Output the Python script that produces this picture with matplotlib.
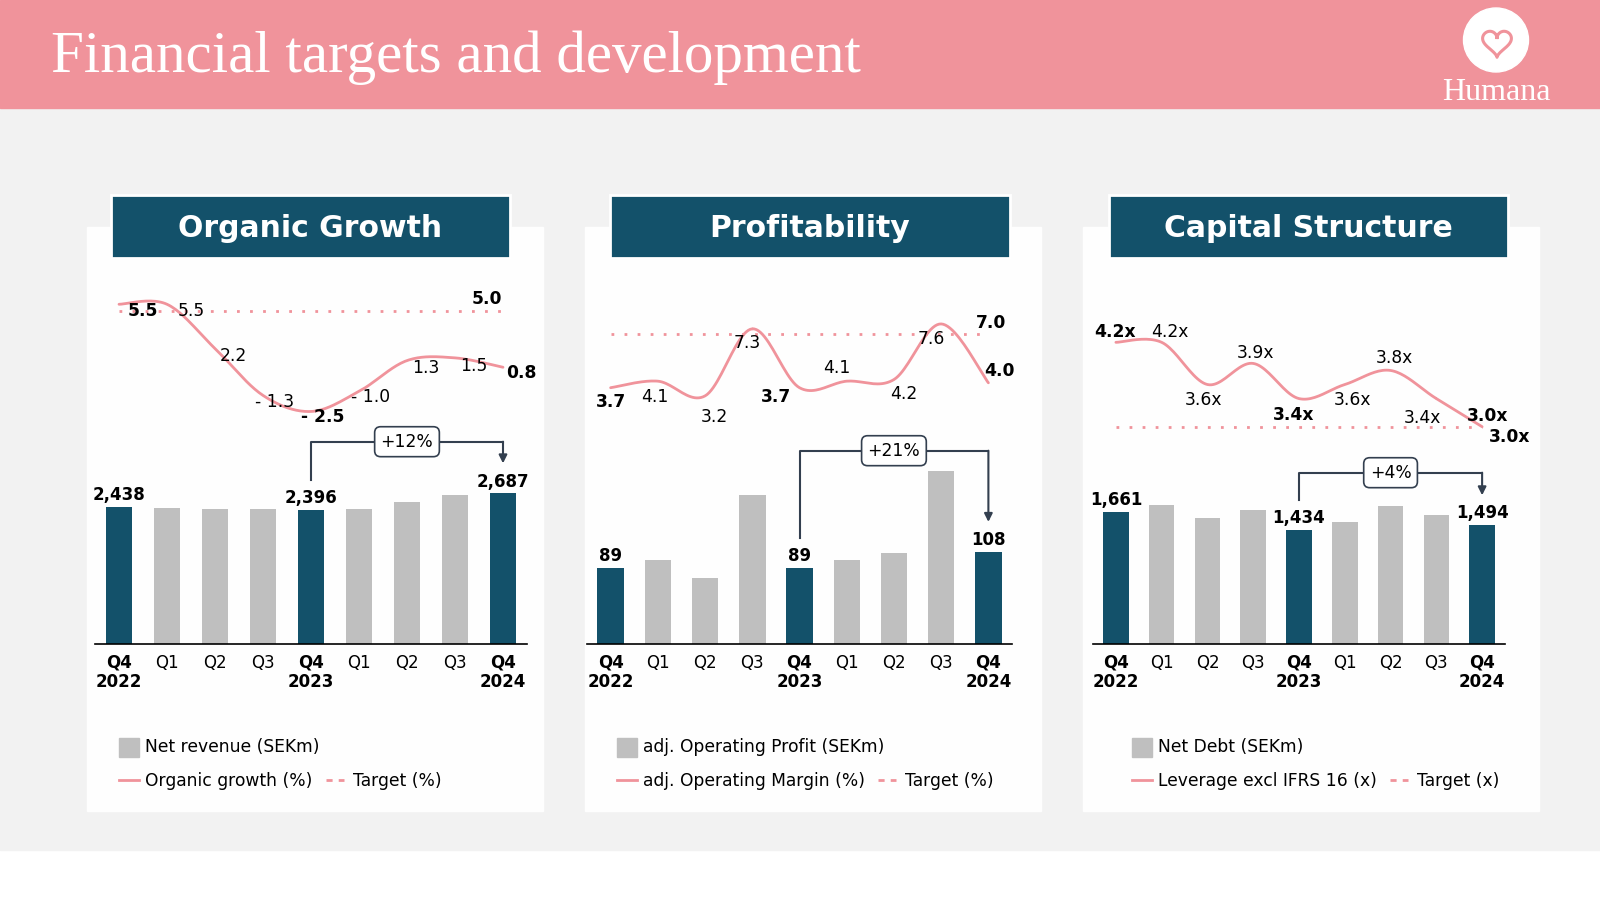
import numpy as np
import matplotlib
matplotlib.use("Agg")
import matplotlib.pyplot as plt
from matplotlib.patches import Rectangle, Ellipse
from matplotlib.lines import Line2D

plt.rcParams['font.family'] = ['DejaVu Sans']

# data
quarters = ["Q4\n2022", "Q1", "Q2", "Q3", "Q4\n2023", "Q1", "Q2", "Q3", "Q4\n2024"]
highlight = [0, 4, 8]

net_revenue = [2438, 2430, 2410, 2400, 2396, 2410, 2530, 2650, 2687]
organic_growth = [5.5, 5.5, 2.2, -1.3, -2.5, -1.0, 1.3, 1.5, 0.8]
growth_target = 5.0

op_profit = [89, 99, 77, 175, 89, 99, 107, 203, 108]
op_margin = [3.7, 4.1, 3.2, 7.3, 3.7, 4.1, 4.2, 7.6, 4.0]
margin_target = 7.0

net_debt = [1661, 1749, 1582, 1686, 1434, 1535, 1736, 1619, 1494]
leverage = [4.2, 4.2, 3.6, 3.9, 3.4, 3.6, 3.8, 3.4, 3.0]
leverage_target = 3.0

changes = ["+12%", "+21%", "+4%"]
titles = ["Organic Growth", "Profitability", "Capital Structure"]
legend_bar = ["Net revenue (SEKm)", "adj. Operating Profit (SEKm)", "Net Debt (SEKm)"]
legend_line = ["Organic growth (%)", "adj. Operating Margin (%)", "Leverage excl IFRS 16 (x)"]
legend_target = ["Target (%)", "Target (%)", "Target (x)"]
suffix = ["", "", "x"]

bars = [net_revenue, op_profit, net_debt]
lines = [organic_growth, op_margin, leverage]
targets = [growth_target, margin_target, leverage_target]

# colours
PINK = '#F0939B'
TEAL = '#13516A'
GRAY = '#BFBFBF'
DARK = '#333F4F'
BG = '#F2F2F2'

# layout (pixels, y from top)
W, H = 1600, 900
panel_x = [(87, 543), (585, 1041), (1083, 1539)]
title_x = [(111, 510), (610, 1010), (1109, 1508)]
axes_x = [(95, 527), (587, 1012), (1093, 1505)]
AX_TOP, AX_BOT = 250, 644
bar_ymax = [7027, 462, 4958]
line_ylim = [(-19.85, 9.55), (-11.97, 12.12), (-0.09, 5.513)]
bracket_y = [441.7, 450.7, 472.7]
label_off = [
    [(24, 7), (24, 7), (18, 7.5), (12, 7), (12, 6), (12, 6), (18.6, 7.7), (18.7, 8), (18, 6)],
    [(0, 14), (-3, 15.5), (9, 21), (-5, 14.5), (-24, 9), (-9.5, -13), (10, 14), (-10, 15.4), (11, -12)],
    [(-1, -10.6), (8, -10.6), (-4, 15), (2, -10), (-5, 16.5), (8, 15), (4, -12), (-13.6, 19), (5, -11)],
]
target_off = [(-16, -11.7), (3, -11), (27, 10.3)]
leg_x = [119, 617, 1132]
leg_dash_x = [326, 878, 1390]
FS = 12.3


def fx(x):
    return x / W


def fy(y):
    return 1 - y / H


def smooth(xs, ys, n=24):
    # catmull-rom curve through the points, like a smoothed excel line
    pts = np.column_stack([xs, ys]).astype(float)
    P = np.vstack([pts[0], pts, pts[-1]])
    t = np.linspace(0, 1, n)[:, None]
    segs = []
    for i in range(1, len(P) - 2):
        p0, p1, p2, p3 = P[i - 1], P[i], P[i + 1], P[i + 2]
        segs.append(0.5 * (2 * p1 + (-p0 + p2) * t + (2 * p0 - 5 * p1 + 4 * p2 - p3) * t ** 2
                           + (-p0 + 3 * p1 - 3 * p2 + p3) * t ** 3))
    return np.vstack(segs)


def fmt(v, sfx):
    s = f"{abs(v):.1f}{sfx}"
    return "- " + s if v < 0 else s


fig = plt.figure(figsize=(16, 9), dpi=100)

fig.add_artist(Rectangle((0, fy(850)), 1, (850 - 108) / H, transform=fig.transFigure,
                         color=BG, zorder=-10))
fig.add_artist(Rectangle((0, fy(108)), 1, 108 / H, transform=fig.transFigure,
                         color=PINK, zorder=-10))
fig.text(fx(51), fy(71.7), "Financial targets and development", family='Liberation Serif',
         fontsize=42.5, color='white', va='baseline')

# logo
fig.add_artist(Ellipse((fx(1496), fy(40)), 65 / W, 64 / H, transform=fig.transFigure,
                       color='white', zorder=-5))
tt = np.linspace(0, 2 * np.pi, 200)
hx = 16 * np.sin(tt) ** 3
hy = 13 * np.cos(tt) - 5 * np.cos(2 * tt) - 2 * np.cos(3 * tt) - np.cos(4 * tt)
fig.add_artist(Line2D(fx(1497 + 0.9 * hx), fy(42 - 0.9 * hy), color=PINK, lw=2.2,
                      transform=fig.transFigure))
fig.text(fx(1496), fy(100), "Humana", family='Liberation Serif', fontsize=23,
         color='white', ha='center', va='baseline')

idx = np.arange(len(quarters))

for k in range(3):
    px0, px1 = panel_x[k]
    fig.add_artist(Rectangle((fx(px0), fy(811)), (px1 - px0) / W, (811 - 227) / H,
                             transform=fig.transFigure, color='#FEFEFE', zorder=-9))
    bx0, bx1 = title_x[k]
    fig.add_artist(Rectangle((fx(bx0), fy(258)), (bx1 - bx0) / W, 63 / H,
                             transform=fig.transFigure, fc=TEAL, ec='white', lw=2, zorder=-8))
    fig.text(fx((bx0 + bx1) / 2), fy(228.5), titles[k], color='white', fontsize=21.5,
             fontweight='bold', ha='center', va='center')

    x0, x1 = axes_x[k]
    rect = [fx(x0), fy(AX_BOT), (x1 - x0) / W, (AX_BOT - AX_TOP) / H]

    # bars
    ax = fig.add_axes(rect)
    ax.set_facecolor('none')
    colors = [TEAL if i in highlight else GRAY for i in idx]
    ax.bar(idx, bars[k], width=0.56, color=colors, zorder=2)
    ax.set_xlim(-0.5, 8.5)
    ax.set_ylim(0, bar_ymax[k])
    for sp in ['top', 'right', 'left']:
        ax.spines[sp].set_visible(False)
    ax.spines['bottom'].set_linewidth(1.2)
    ax.set_yticks([])
    ax.set_xticks(idx)
    ax.set_xticklabels(quarters, fontsize=12, linespacing=1.07)
    for i, lab in enumerate(ax.get_xticklabels()):
        if i in highlight:
            lab.set_fontweight('bold')
    ax.tick_params(axis='x', length=0, pad=7)
    for i in highlight:
        ax.annotate(f"{bars[k][i]:,}", (i, bars[k][i]), xytext=(0, 8.5),
                    textcoords='offset points', ha='center', va='center',
                    fontsize=12, fontweight='bold')

    # bracket with change
    s = (AX_BOT - AX_TOP) / bar_ymax[k]
    y_start = bars[k][4] + 30 / s
    y_tip = bars[k][8] + 30 / s
    y_top = (AX_BOT - bracket_y[k]) / s
    ax.plot([4, 4, 8], [y_start, y_top, y_top], color=DARK, lw=1.5, zorder=4)
    ax.annotate('', xy=(8, y_tip), xytext=(8, y_top),
                arrowprops=dict(arrowstyle='-|>', color=DARK, lw=1.5, shrinkA=0,
                                shrinkB=0, mutation_scale=12))
    ax.text(6, y_top, changes[k], ha='center', va='center', fontsize=FS, zorder=5,
            bbox=dict(boxstyle='round,pad=0.35,rounding_size=0.35', fc='white',
                      ec=DARK, lw=1.2))

    # line
    ax2 = fig.add_axes(rect)
    ax2.set_xlim(-0.5, 8.5)
    ax2.set_ylim(*line_ylim[k])
    ax2.axis('off')
    curve = smooth(idx, lines[k])
    ax2.plot(curve[:, 0], curve[:, 1], color=PINK, lw=2, solid_capstyle='round')
    ax2.plot([0, 8], [targets[k]] * 2, color=PINK, lw=2, linestyle=(0, (1, 3.7)))
    for i, v in enumerate(lines[k]):
        dx, dy = label_off[k][i]
        ax2.annotate(fmt(v, suffix[k]), (i, v), xytext=(dx * 0.72, -dy * 0.72),
                     textcoords='offset points', ha='center', va='center', fontsize=FS,
                     fontweight='bold' if i in highlight else 'normal',
                     annotation_clip=False)
    dx, dy = target_off[k]
    ax2.annotate(fmt(targets[k], suffix[k]), (8, targets[k]), xytext=(dx * 0.72, -dy * 0.72),
                 textcoords='offset points', ha='center', va='center', fontsize=FS,
                 fontweight='bold', annotation_clip=False)

    # legend
    lx = leg_x[k]
    fig.add_artist(Rectangle((fx(lx), fy(757)), 20 / W, 19.5 / H,
                             transform=fig.transFigure, color=GRAY))
    fig.text(fx(lx + 26), fy(747.5), legend_bar[k], fontsize=FS, va='center')
    fig.add_artist(Line2D([fx(lx), fx(lx + 20)], [fy(780)] * 2, color=PINK, lw=2,
                          transform=fig.transFigure))
    fig.text(fx(lx + 26), fy(780.5), legend_line[k], fontsize=FS, va='center')
    dxl = leg_dash_x[k]
    fig.add_artist(Line2D([fx(dxl), fx(dxl + 18)], [fy(780)] * 2, color=PINK, lw=2,
                          linestyle=(0, (2.2, 2.2)), transform=fig.transFigure))
    fig.text(fx(dxl + 27), fy(780.5), legend_target[k], fontsize=FS, va='center')

fig.savefig('out.png', dpi=100)
